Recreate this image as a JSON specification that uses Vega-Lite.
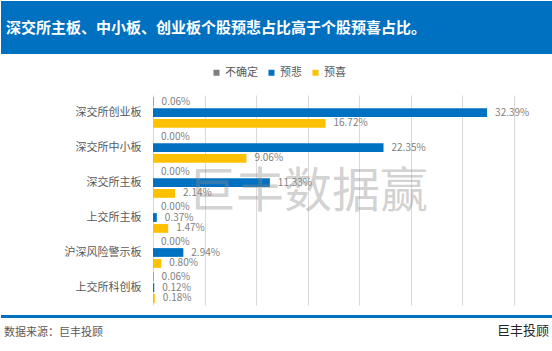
{
  "$schema": "https://vega.github.io/schema/vega-lite/v6.json",
  "padding": 0,
  "background": "white",
  "config": {"font": "Noto Sans CJK SC", "view": {"stroke": null}},
  "bounds": "full",
  "spacing": 0,
  "resolve": {"scale": {"color": "independent"}, "legend": {"color": "independent"}},
  "vconcat": [
    {
      "width": 552,
      "height": 53,
      "view": {"fill": "#0070C0", "stroke": null},
      "title": {"text": "深交所主板、中小板、创业板个股预悲占比高于个股预喜占比。", "anchor": "start", "frame": "group", "orient": "top", "offset": -42, "baseline": "middle", "dx": 5, "color": "white", "fontSize": 15, "fontWeight": "bold", "font": "Noto Sans CJK SC"},
      "data": {"values": [{}]},
      "mark": {"type": "rule", "strokeOpacity": 0},
      "encoding": {}
    },
    {
      "width": 552,
      "height": 210,
      "title": {"text": "巨丰数据赢", "orient": "top", "anchor": "middle", "frame": "group", "offset": -187, "baseline": "middle", "dx": 31, "fontSize": 48, "fontWeight": "normal", "color": "rgba(140,140,140,0.4)"},
      "data": {"values": [
        {"板块": "深交所创业板", "类型": "不确定", "占比": 0.0006},
        {"板块": "深交所创业板", "类型": "预悲", "占比": 0.3239},
        {"板块": "深交所创业板", "类型": "预喜", "占比": 0.1672},
        {"板块": "深交所中小板", "类型": "不确定", "占比": 0.0},
        {"板块": "深交所中小板", "类型": "预悲", "占比": 0.2235},
        {"板块": "深交所中小板", "类型": "预喜", "占比": 0.0906},
        {"板块": "深交所主板", "类型": "不确定", "占比": 0.0},
        {"板块": "深交所主板", "类型": "预悲", "占比": 0.1133},
        {"板块": "深交所主板", "类型": "预喜", "占比": 0.0214},
        {"板块": "上交所主板", "类型": "不确定", "占比": 0.0},
        {"板块": "上交所主板", "类型": "预悲", "占比": 0.0037},
        {"板块": "上交所主板", "类型": "预喜", "占比": 0.0147},
        {"板块": "沪深风险警示板", "类型": "不确定", "占比": 0.0},
        {"板块": "沪深风险警示板", "类型": "预悲", "占比": 0.0294},
        {"板块": "沪深风险警示板", "类型": "预喜", "占比": 0.0080},
        {"板块": "上交所科创板", "类型": "不确定", "占比": 0.0006},
        {"板块": "上交所科创板", "类型": "预悲", "占比": 0.0012},
        {"板块": "上交所科创板", "类型": "预喜", "占比": 0.0018}
      ]},
      "encoding": {
        "y": {"field": "板块", "type": "nominal", "sort": ["深交所创业板", "深交所中小板", "深交所主板", "上交所主板", "沪深风险警示板", "上交所科创板"], "scale": {"paddingInner": 0, "paddingOuter": 0},
          "axis": {"title": null, "domain": false, "ticks": false, "offset": -152, "labelPadding": 12, "labelFontSize": 11, "labelColor": "#595959", "minExtent": 0, "maxExtent": 200}},
        "yOffset": {"field": "类型", "type": "nominal", "sort": ["不确定", "预悲", "预喜"], "scale": {"paddingInner": 0.2, "paddingOuter": 0.2}},
        "x": {"field": "占比", "type": "quantitative", "scale": {"domain": [0, 0.35], "range": [152, 513], "nice": false},
          "axis": {"orient": "bottom", "title": null, "labels": false, "ticks": false, "domain": false, "grid": true, "gridColor": "#d9d9d9", "values": [0, 0.05, 0.1, 0.15, 0.2, 0.25, 0.3, 0.35], "minExtent": 9, "maxExtent": 9}}
      },
      "layer": [
        {
          "mark": {"type": "bar"},
          "encoding": {
            "color": {"field": "类型", "type": "nominal", "scale": {"domain": ["不确定", "预悲", "预喜"], "range": ["#7F7F7F", "#0070C0", "#FFC000"]},
              "legend": {"orient": "none", "direction": "horizontal", "legendX": 197, "legendY": -41, "padding": 13, "fillColor": "white", "title": null, "symbolType": "square", "symbolSize": 36, "symbolStrokeWidth": 0, "labelFontSize": 11, "labelColor": "#595959", "columnPadding": 8, "labelOffset": 3}}
          }
        },
        {
          "mark": {"type": "text", "align": "left", "dx": 8, "fontSize": 10, "color": "#7f7f7f"},
          "encoding": {"text": {"field": "占比", "type": "quantitative", "format": ".2%"}}
        }
      ]
    },
    {
      "width": 552,
      "height": 3,
      "view": {"fill": "#0070C0", "stroke": null},
      "data": {"values": [{}]},
      "mark": {"type": "rule", "strokeOpacity": 0},
      "encoding": {}
    },
    {
      "spacing": 0,
      "bounds": "full",
      "hconcat": [
        {
          "width": 276,
          "height": 35,
          "title": {"text": "数据来源：巨丰投顾", "anchor": "start", "frame": "group", "orient": "top", "offset": -25, "baseline": "middle", "dx": 3, "color": "#595959", "fontSize": 11, "fontWeight": "normal"},
          "data": {"values": [{}]},
          "mark": {"type": "rule", "strokeOpacity": 0},
          "encoding": {}
        },
        {
          "width": 276,
          "height": 35,
          "title": {"text": "巨丰投顾", "anchor": "end", "frame": "group", "orient": "top", "offset": -25, "baseline": "middle", "dx": -5, "color": "#262626", "fontSize": 13, "fontWeight": "normal"},
          "data": {"values": [{}]},
          "mark": {"type": "rule", "strokeOpacity": 0},
          "encoding": {}
        }
      ]
    }
  ]
}
